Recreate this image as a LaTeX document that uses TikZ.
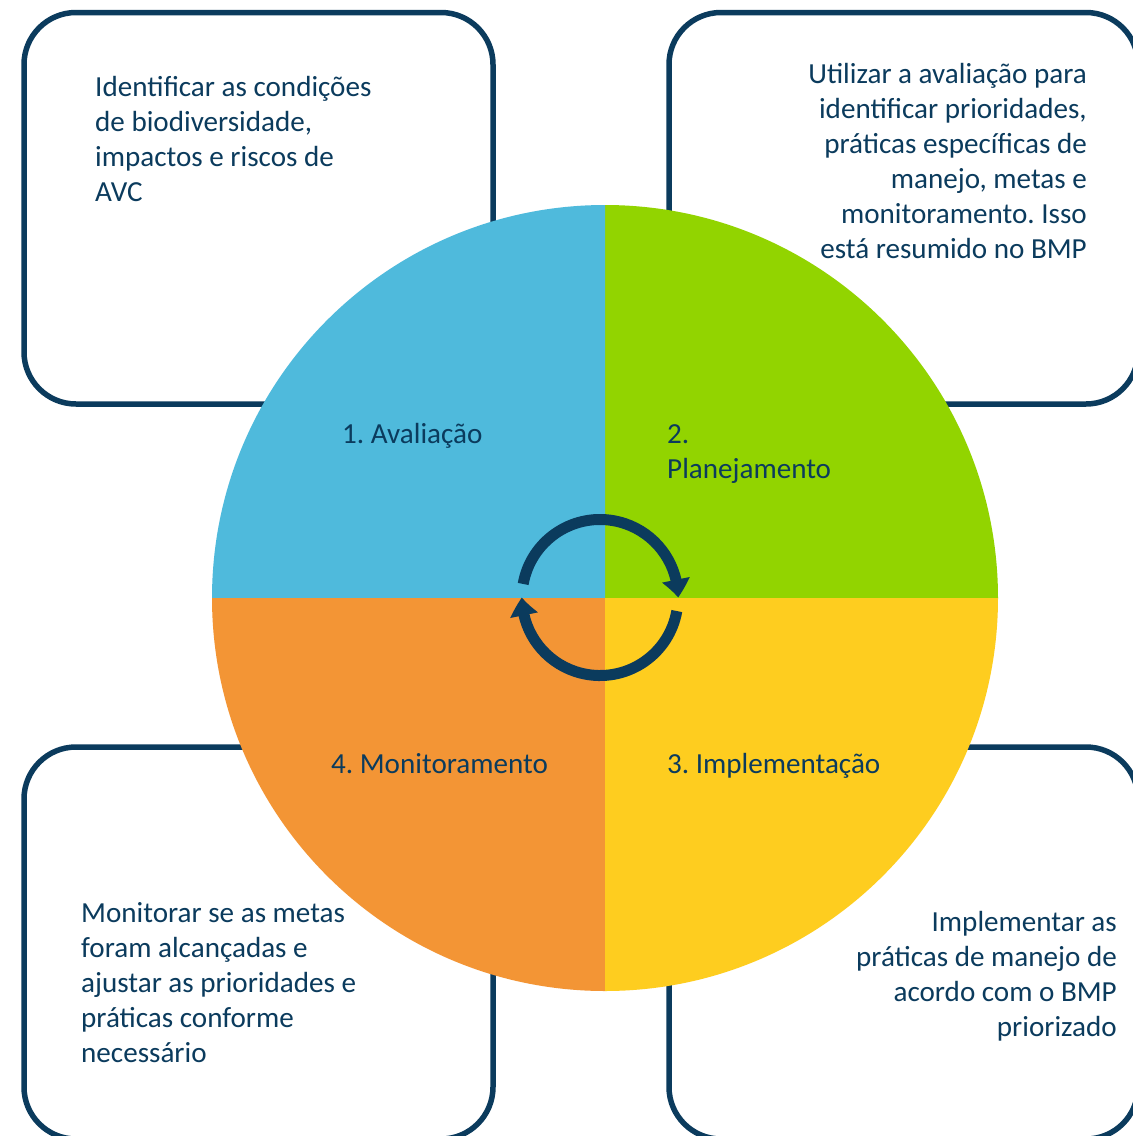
\documentclass[tikz,border=0pt]{standalone}
\usepackage{fontspec}
\setmainfont{Carlito}
\frenchspacing
\usetikzlibrary{arrows.meta,bending,calc}

\definecolor{navy}{HTML}{0B3B5D}
\definecolor{qblue}{HTML}{4FBADC}
\definecolor{qgreen}{HTML}{92D400}
\definecolor{qyellow}{HTML}{FECD1F}
\definecolor{qorange}{HTML}{F39535}

\tikzset{
  panel/.style={draw=navy, line width=5.5pt, rounded corners=52pt, fill=white},
  desc/.style={font=\fontsize{29.1}{35}\selectfont, text=navy, inner sep=0pt},
  stage/.style={font=\fontsize{29.1}{35}\selectfont, text=navy, inner sep=0pt, align=left, anchor=base west},
  cyclearc/.style={draw=navy, line width=11pt},
  cycletip/.style={-{Triangle[width=27pt,length=18pt,bend]}}
}

\begin{document}
\begin{tikzpicture}[x=1pt,y=1pt]
  \useasboundingbox (0,0) rectangle (1133,-1136);
  \fill[white] (0,0) rectangle (1133,-1136);

  % corner panels
  \draw[panel] (24,-12.5) rectangle (493,-404);
  \draw[panel] (669,-12.5) rectangle (1138,-404);
  \draw[panel] (24,-747) rectangle (493,-1139);
  \draw[panel] (669,-747) rectangle (1138,-1139);

  % the four quadrants of the wheel
  \coordinate (c) at (605,-598);
  \fill[qgreen]  (c) -- ++(0:393) arc[start angle=0,   end angle=90,  radius=393] -- cycle;
  \fill[qblue]   (c) -- ++(90:393) arc[start angle=90,  end angle=180, radius=393] -- cycle;
  \fill[qorange] (c) -- ++(180:393) arc[start angle=180, end angle=270, radius=393] -- cycle;
  \fill[qyellow] (c) -- ++(270:393) arc[start angle=270, end angle=360, radius=393] -- cycle;

  % cycle arrows in the middle
  \coordinate (a) at (600,-597.5);
  \draw[cyclearc, cycletip] ($(a)+(170:78)$) arc[start angle=170, end angle=0, radius=78];
  \draw[cyclearc, cycletip] ($(a)+(-10:78)$) arc[start angle=-10, end angle=-180, radius=78];

  % stage names (anchored on the baseline of the last line)
  \node[stage] (s1) at (342,-443) {1. Avaliação};
  \node[stage] (s2) at (667,-478) {2.\\Planejamento};
  \node[stage] (s3) at (667,-773) {3. Implementação};
  \node[stage] (s4) at (331,-773) {4. Monitoramento};

  % panel descriptions (anchored on the baseline of the last line)
  \node[desc, align=left, anchor=base west] (d1) at (95,-201)
    {Identificar as condições\\de biodiversidade,\\impactos e riscos de\\AVC};
  \node[desc, align=right, anchor=base east] (d2) at (1087,-258)
    {Utilizar a avaliação para\\identificar prioridades,\\práticas específicas de\\manejo, metas e\\monitoramento. Isso\\está resumido no BMP};
  \node[desc, align=right, anchor=base east] (d3) at (1117,-1036)
    {Implementar as\\práticas de manejo de\\acordo com o BMP\\priorizado};
  \node[desc, align=left, anchor=base west] (d4) at (81,-1062)
    {Monitorar se as metas\\foram alcançadas e\\ajustar as prioridades e\\práticas conforme\\necessário};
\end{tikzpicture}
\end{document}
